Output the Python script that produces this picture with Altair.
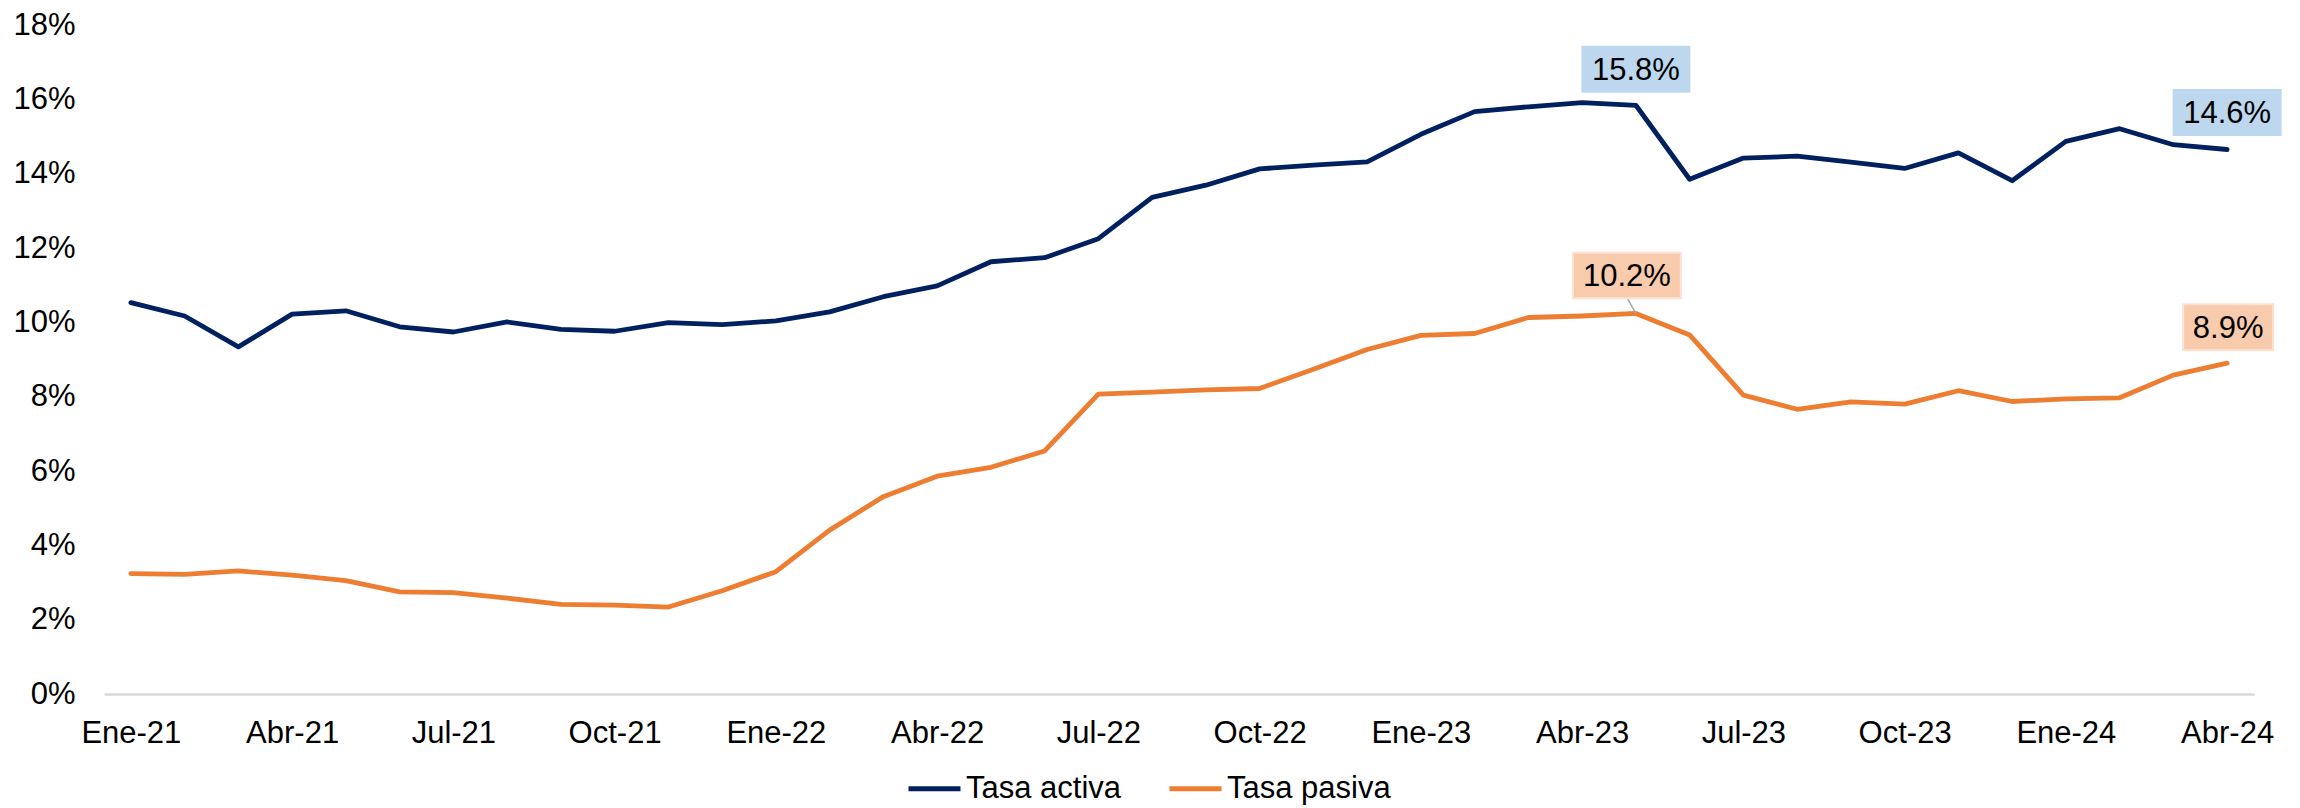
import altair as alt
import pandas as pd

meses = ["Ene-21", "Feb-21", "Mar-21", "Abr-21", "May-21", "Jun-21", "Jul-21", "Ago-21", "Sep-21", "Oct-21", "Nov-21", "Dic-21",
         "Ene-22", "Feb-22", "Mar-22", "Abr-22", "May-22", "Jun-22", "Jul-22", "Ago-22", "Sep-22", "Oct-22", "Nov-22", "Dic-22",
         "Ene-23", "Feb-23", "Mar-23", "Abr-23", "May-23", "Jun-23", "Jul-23", "Ago-23", "Sep-23", "Oct-23", "Nov-23", "Dic-23",
         "Ene-24", "Feb-24", "Mar-24", "Abr-24"]

tasa_activa = [10.53, 10.17, 9.34, 10.22, 10.31, 9.88, 9.74, 10.01, 9.81, 9.76, 9.99, 9.94,
               10.04, 10.28, 10.69, 10.98, 11.63, 11.74, 12.25, 13.36, 13.69, 14.13, 14.23, 14.32,
               15.06, 15.67, 15.80, 15.91, 15.84, 13.85, 14.42, 14.47, 14.31, 14.14, 14.56, 13.81,
               14.87, 15.21, 14.78, 14.65]

tasa_pasiva = [3.24, 3.22, 3.31, 3.20, 3.05, 2.75, 2.73, 2.58, 2.41, 2.39, 2.34, 2.78,
               3.29, 4.41, 5.31, 5.86, 6.10, 6.54, 8.07, 8.12, 8.18, 8.22, 8.74, 9.27,
               9.65, 9.70, 10.13, 10.17, 10.24, 9.66, 8.04, 7.66, 7.86, 7.80, 8.16, 7.87,
               7.94, 7.97, 8.58, 8.90]

series = ["Tasa activa", "Tasa pasiva"]
colores = ["#002060", "#ED7D31"]
ticks_x = ["Ene-21", "Abr-21", "Jul-21", "Oct-21", "Ene-22", "Abr-22", "Jul-22", "Oct-22",
           "Ene-23", "Abr-23", "Jul-23", "Oct-23", "Ene-24", "Abr-24"]

ann_mes = ["May-23", "Abr-24", "May-23", "Abr-24"]
ann_serie = ["Tasa activa", "Tasa activa", "Tasa pasiva", "Tasa pasiva"]
ann_texto = ["15.8%", "14.6%", "10.2%", "8.9%"]

FONT = "Liberation Sans"
FS = 31

rows = []
for s, vals in zip(series, [tasa_activa, tasa_pasiva]):
    for m, v in zip(meses, vals):
        rows.append({"mes": m, "serie": s, "valor": v / 100.0})
df = pd.DataFrame(rows)

lookup = {(r["mes"], r["serie"]): r["valor"] for r in rows}
ann_df = pd.DataFrame({
    "mes": ann_mes,
    "serie": ann_serie,
    "texto": ann_texto,
    "valor": [lookup[(m, s)] for m, s in zip(ann_mes, ann_serie)],
})

x_enc = alt.X("mes:N", sort=meses,
              scale=alt.Scale(type="point", padding=0.5, domain=meses),
              axis=alt.Axis(title=None, values=ticks_x, labelAngle=0, ticks=False, tickSize=0,
                            domain=True, domainColor="#D9D9D9", domainWidth=2.5,
                            labelFont=FONT, labelFontSize=FS, labelColor="#000000",
                            labelPadding=39.5, labelBaseline="middle", grid=False))
y_enc = alt.Y("valor:Q",
              scale=alt.Scale(domain=[0, 0.18], nice=False, zero=True),
              axis=alt.Axis(title=None, values=[i / 100 for i in range(0, 19, 2)], format=".0%",
                            domain=False, ticks=False, tickSize=0, grid=False,
                            labelFont=FONT, labelFontSize=FS, labelColor="#000000",
                            labelPadding=29))

lines = alt.Chart(df).mark_line(strokeWidth=4.8, strokeCap="round", strokeJoin="round").encode(
    x=x_enc,
    y=y_enc,
    color=alt.Color("serie:N", scale=alt.Scale(domain=series, range=colores),
                    legend=alt.Legend(title=None, orient="none", direction="horizontal",
                                      legendX=802, legendY=735, padding=0,
                                      symbolType="stroke", symbolSize=2704, symbolStrokeWidth=5,
                                      labelFont=FONT, labelFontSize=FS, labelColor="#000000",
                                      labelLimit=0, labelOffset=3, columnPadding=37)),
    detail="serie:N",
)

box_wide = "M-1,-0.4206L1,-0.4206L1,0.4206L-1,0.4206Z"
box_narrow = "M-1,-0.511L1,-0.511L1,0.511L-1,0.511Z"

fills = {"Tasa activa": ("#BDD7EE", "#BDD7EE"), "Tasa pasiva": ("#F8CBAD", "#FBE2D5")}
specs = [
    (0, box_wide, 107 ** 2, 0, -36),
    (1, box_wide, 107 ** 2, 0, -37),
    (2, box_wide, 108 ** 2, -9, -38),
    (3, box_narrow, 90 ** 2, 1, -36),
]

layers = [lines]

leader = alt.Chart(ann_df.iloc[[2]]).mark_rule(stroke="#A6A6A6", strokeWidth=1.5,
                                               x2Offset=-9, y2Offset=-16).encode(
    x=alt.X("mes:N", sort=meses), y="valor:Q", x2="mes", y2="valor")
layers.append(leader)

for idx, shape, size, xo, yo in specs:
    sub = ann_df.iloc[[idx]]
    fill, stroke = fills[ann_serie[idx]]
    box = alt.Chart(sub).mark_point(shape=shape, size=size, filled=True, fill=fill, stroke=stroke,
                                    strokeWidth=2, opacity=1, xOffset=xo, yOffset=yo).encode(
        x=alt.X("mes:N", sort=meses), y="valor:Q")
    txt = alt.Chart(sub).mark_text(font=FONT, fontSize=FS, color="#000000", align="center",
                                   baseline="middle", xOffset=xo, yOffset=yo + 1.5).encode(
        x=alt.X("mes:N", sort=meses), y="valor:Q", text="texto:N")
    layers += [box, txt]

chart = alt.layer(*layers).properties(
    width=2150, height=669,
    autosize=alt.AutoSizeParams(type="none"),
    padding={"left": 96, "top": 17, "right": 30, "bottom": 112},
).configure(background="#FFFFFF", view=alt.ViewConfig(stroke="transparent", strokeWidth=0))

chart.save("out.html", embed_options={"renderer": "svg", "actions": False})
